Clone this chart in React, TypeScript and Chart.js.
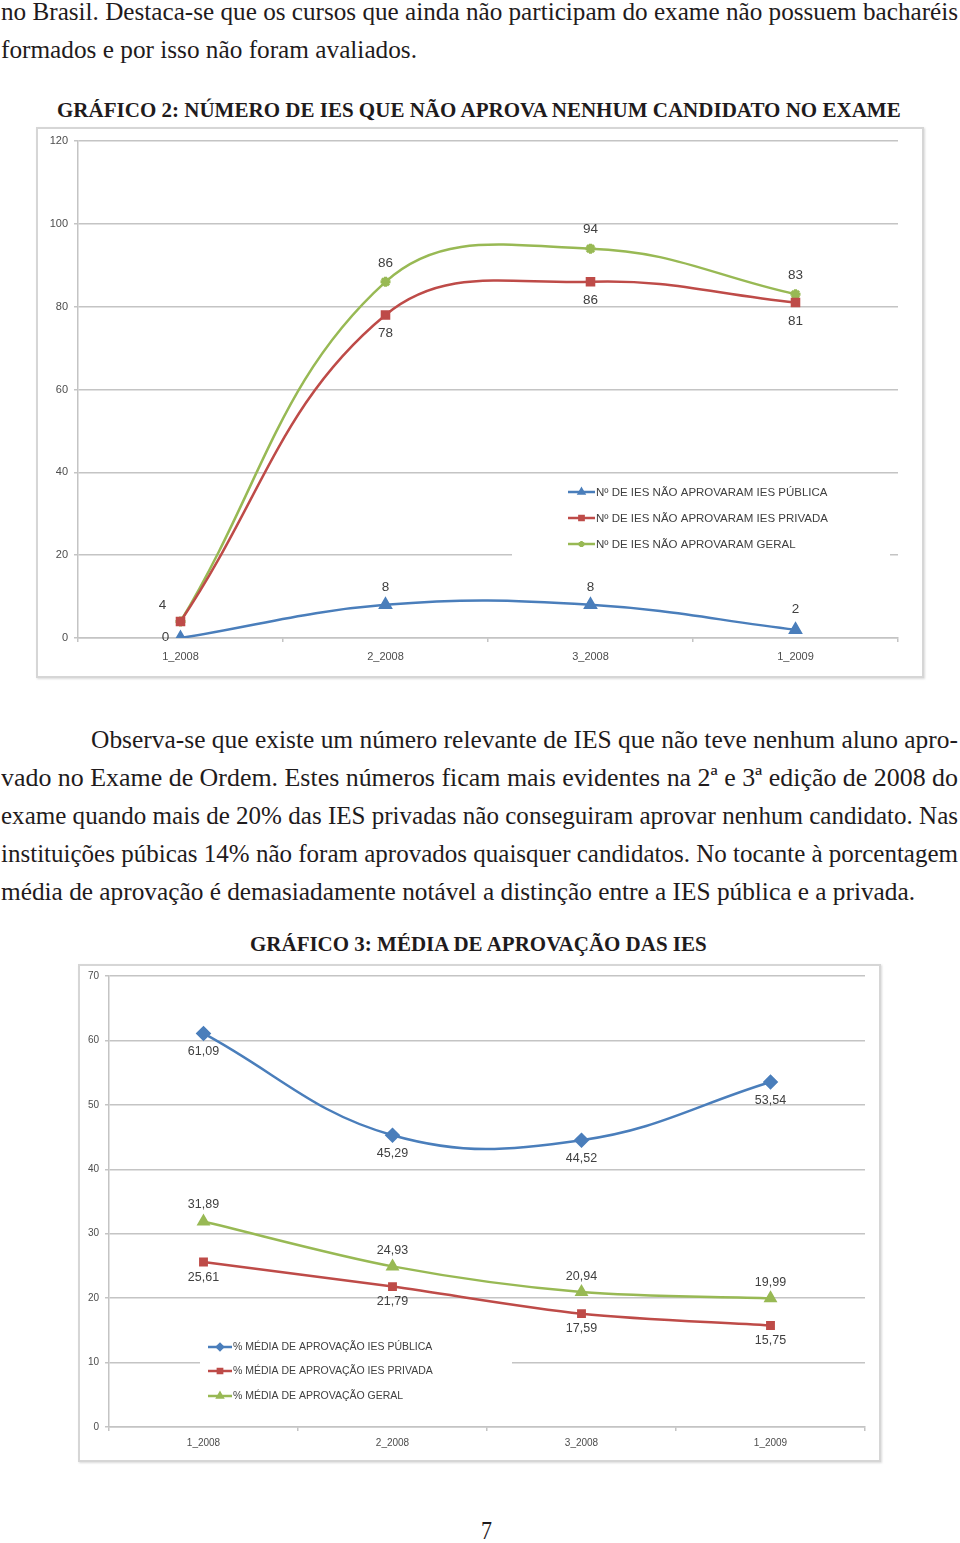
import React, { useEffect, useMemo, useRef } from "react";
import { Chart, registerables } from "chart.js";
import { drawPoint } from "chart.js/helpers";

Chart.register(...registerables);

// ---------------- DATA ----------------
const periods = ["1_2008", "2_2008", "3_2008", "1_2009"];

const ch1SeriesNames = [
  "Nº DE IES NÃO APROVARAM IES PÚBLICA",
  "Nº DE IES NÃO APROVARAM IES PRIVADA",
  "Nº DE IES NÃO APROVARAM GERAL",
];
const ch1Publica = [0, 8, 8, 2];
const ch1Privada = [4, 78, 86, 81];
const ch1Geral = [4, 86, 94, 83];
const ch1YMax = 120;
const ch1YStep = 20;

const ch2SeriesNames = [
  "% MÉDIA DE APROVAÇÃO IES PÚBLICA",
  "% MÉDIA DE APROVAÇÃO IES PRIVADA",
  "% MÉDIA DE APROVAÇÃO GERAL",
];
const ch2Publica = [61.09, 45.29, 44.52, 53.54];
const ch2Privada = [25.61, 21.79, 17.59, 15.75];
const ch2Geral = [31.89, 24.93, 20.94, 19.99];
const ch2YMax = 70;
const ch2YStep = 10;

const BLUE = "#4a7ebb";
const RED = "#be4b48";
const GREEN = "#98b954";
const TICK_FONT = '"Liberation Sans", Arial, sans-serif';

// ---------------- PLUGINS ----------------
const valueLabels = {
  id: "valueLabels",
  afterDatasetsDraw(chart: any, _args: any, opts: any) {
    const ctx = chart.ctx;
    chart.data.datasets.forEach((ds: any, i: number) => {
      const meta = chart.getDatasetMeta(i);
      const pos = ds.labelPos || [];
      meta.data.forEach((pt: any, j: number) => {
        const p = pos[j];
        if (!p) return;
        const v = ds.data[j];
        ctx.save();
        ctx.font = opts.font;
        ctx.fillStyle = opts.color;
        ctx.textAlign = "center";
        ctx.textBaseline = "middle";
        ctx.fillText(opts.decimals ? v.toFixed(2).replace(".", ",") : String(v), pt.x + p[0], pt.y + p[1]);
        ctx.restore();
      });
    });
  },
};

const insideLegend = {
  id: "insideLegend",
  beforeDatasetsDraw(chart: any, _args: any, opts: any) {
    if (!opts || !opts.box) return;
    const ctx = chart.ctx;
    ctx.save();
    ctx.fillStyle = "#ffffff";
    ctx.fillRect(opts.box[0], opts.box[1], opts.box[2], opts.box[3]);
    chart.data.datasets.forEach((ds: any, i: number) => {
      const y = opts.ys[i];
      ctx.strokeStyle = ds.borderColor;
      ctx.lineWidth = 2.5;
      ctx.beginPath();
      ctx.moveTo(opts.x, y);
      ctx.lineTo(opts.x + opts.lineLen, y);
      ctx.stroke();
      ctx.fillStyle = ds.borderColor;
      drawPoint(
        ctx,
        { pointStyle: ds.pointStyle, radius: opts.markerRadius, rotation: 0, borderWidth: 1 } as any,
        opts.x + opts.lineLen / 2,
        y
      );
      ctx.fillStyle = "#404040";
      ctx.font = opts.font;
      ctx.textAlign = "left";
      ctx.textBaseline = "middle";
      ctx.fillText(ds.label, opts.x + opts.lineLen + 1, y + 0.5);
    });
    ctx.restore();
  },
};

// ---------------- COMPONENTS ----------------
function ChartBox({ left, top, width, height, config }: any) {
  const ref = useRef<HTMLCanvasElement>(null);
  useEffect(() => {
    const chart = new Chart(ref.current as HTMLCanvasElement, config);
    return () => chart.destroy();
  }, [config]);
  return (
    <>
      <div style={{ position: "absolute", left, top, width, height }}>
        <canvas ref={ref} width={width} height={height} style={{ width, height, display: "block" }} />
      </div>
      <div
        style={{
          position: "absolute",
          left,
          top,
          width,
          height,
          boxSizing: "border-box",
          border: "2px solid #d6d6d6",
          boxShadow: "1px 1px 2px rgba(0,0,0,0.15)",
          pointerEvents: "none",
        }}
      />
    </>
  );
}

function TextLine({ text, x0, x1, cy, size, bold }: any) {
  const font = `${bold ? "bold " : ""}${size}px "Liberation Serif"`;
  const natural = useMemo(() => {
    const c = document.createElement("canvas").getContext("2d") as CanvasRenderingContext2D;
    c.font = font;
    return c.measureText(text).width;
  }, [text, font]);
  const s = (x1 - x0) / natural;
  return (
    <div
      style={{
        position: "absolute",
        left: x0,
        top: cy - 20,
        height: 40,
        lineHeight: "40px",
        fontFamily: '"Liberation Serif", "Times New Roman", serif',
        fontSize: size,
        fontWeight: bold ? 700 : 400,
        whiteSpace: "nowrap",
        transform: `scaleX(${s})`,
        transformOrigin: "left center",
        color: "#1f1b1c",
      }}
    >
      {text}
    </div>
  );
}

function makeConfig(opts: any) {
  const { datasets, yMax, yStep, pad, yWidth, xHeight, tickSize, labelFont, decimals, legend, xPad } = opts;
  return {
    type: "line",
    data: { labels: periods, datasets },
    options: {
      animation: false,
      responsive: false,
      maintainAspectRatio: false,
      layout: { padding: pad },
      plugins: {
        legend: { display: false },
        tooltip: { enabled: false },
        valueLabels: { font: labelFont, color: "#404040", decimals },
        insideLegend: legend,
      },
      scales: {
        x: {
          offset: true,
          grid: { offset: true, drawOnChartArea: false, drawTicks: true, tickLength: 4, color: "#c4c4c4", lineWidth: 1.5 },
          border: { display: true, color: "#c4c4c4", width: 1.5 },
          ticks: { font: { family: TICK_FONT, size: tickSize }, color: "#4d4d4d", padding: xPad, maxRotation: 0 },
          afterFit: (s: any) => {
            s.height = xHeight;
          },
        },
        y: {
          min: 0,
          max: yMax,
          ticks: { stepSize: yStep, font: { family: TICK_FONT, size: tickSize }, color: "#4d4d4d", padding: 6 },
          grid: { color: "#c4c4c4", lineWidth: 1.5, tickLength: 4 },
          border: { display: true, color: "#c4c4c4", width: 1.5 },
          afterFit: (s: any) => {
            s.width = yWidth;
          },
        },
      },
    },
    plugins: [insideLegend, valueLabels],
  };
}

export default function App() {
  useEffect(() => {
    document.body.style.margin = "0";
    document.body.style.background = "#ffffff";
  }, []);

  const config1 = useMemo(
    () =>
      makeConfig({
        datasets: [
          {
            label: ch1SeriesNames[0],
            data: ch1Publica,
            borderColor: BLUE,
            backgroundColor: BLUE,
            borderWidth: 2.5,
            pointStyle: "triangle",
            pointRadius: 6,
            tension: 0.4,
            labelPos: [[-15, -1], [0, -18], [0, -18], [0, -20]],
          },
          {
            label: ch1SeriesNames[1],
            data: ch1Privada,
            borderColor: RED,
            backgroundColor: RED,
            borderWidth: 2.5,
            pointStyle: "rect",
            pointRadius: 5,
            tension: 0.4,
            labelPos: [null, [0, 18], [0, 18], [0, 19]],
          },
          {
            label: ch1SeriesNames[2],
            data: ch1Geral,
            borderColor: GREEN,
            backgroundColor: GREEN,
            borderWidth: 2.5,
            pointStyle: "star",
            pointRadius: 5,
            pointBorderWidth: 3,
            tension: 0.4,
            labelPos: [[-18, -16], [0, -19], [0, -19], [0, -19]],
          },
        ],
        yMax: ch1YMax,
        yStep: ch1YStep,
        pad: { top: 14, right: 26, left: 0, bottom: 0 },
        yWidth: 42,
        xHeight: 40,
        xPad: 8,
        tickSize: 11,
        labelFont: `13.5px ${TICK_FONT}`,
        decimals: false,
        legend: {
          box: [476, 352, 378, 82],
          x: 532,
          ys: [365, 391, 417],
          lineLen: 27,
          markerRadius: 3,
          font: `11.5px ${TICK_FONT}`,
        },
      }),
    []
  );

  const config2 = useMemo(
    () =>
      makeConfig({
        datasets: [
          {
            label: ch2SeriesNames[0],
            data: ch2Publica,
            borderColor: BLUE,
            backgroundColor: BLUE,
            borderWidth: 2.5,
            pointStyle: "rectRot",
            pointRadius: 6,
            tension: 0.4,
            labelPos: [[0, 18], [0, 18], [0, 18], [0, 18]],
          },
          {
            label: ch2SeriesNames[1],
            data: ch2Privada,
            borderColor: RED,
            backgroundColor: RED,
            borderWidth: 2.5,
            pointStyle: "rect",
            pointRadius: 4.5,
            tension: 0.3,
            labelPos: [[0, 16], [0, 15], [0, 15], [0, 15]],
          },
          {
            label: ch2SeriesNames[2],
            data: ch2Geral,
            borderColor: GREEN,
            backgroundColor: GREEN,
            borderWidth: 2.5,
            pointStyle: "triangle",
            pointRadius: 5.5,
            tension: 0.3,
            labelPos: [[0, -17], [0, -16], [0, -16], [0, -16]],
          },
        ],
        yMax: ch2YMax,
        yStep: ch2YStep,
        pad: { top: 12, right: 16, left: 0, bottom: 0 },
        yWidth: 31,
        xHeight: 35,
        xPad: 6,
        tickSize: 10,
        labelFont: `12.5px ${TICK_FONT}`,
        decimals: true,
        legend: {
          box: [122, 368, 312, 80],
          x: 130,
          ys: [383, 407, 432],
          lineLen: 24,
          markerRadius: 3,
          font: `10.5px ${TICK_FONT}`,
        },
      }),
    []
  );

  return (
    <div style={{ position: "relative", width: 960, height: 1543, background: "#fff", overflow: "hidden" }}>
      <TextLine
        text="no Brasil. Destaca-se que os cursos que ainda não participam do exame não possuem bacharéis"
        x0={1}
        x1={958}
        cy={12}
        size={26}
      />
      <TextLine text="formados e por isso não foram avaliados." x0={1} x1={417} cy={50} size={26} />
      <TextLine
        text="GRÁFICO 2: NÚMERO DE IES QUE NÃO APROVA NENHUM CANDIDATO NO EXAME"
        x0={57}
        x1={903}
        cy={110}
        size={22}
        bold
      />
      <ChartBox left={36} top={127} width={888} height={551} config={config1} />

      <TextLine
        text="Observa-se que existe um número relevante de IES que não teve nenhum aluno apro-"
        x0={91}
        x1={958}
        cy={740}
        size={26}
      />
      <TextLine
        text="vado no Exame de Ordem. Estes números ficam mais evidentes na 2ª e 3ª edição de 2008 do"
        x0={1}
        x1={958}
        cy={778}
        size={26}
      />
      <TextLine
        text="exame quando mais de 20% das IES privadas não conseguiram aprovar nenhum candidato. Nas"
        x0={1}
        x1={958}
        cy={816}
        size={26}
      />
      <TextLine
        text="instituições púbicas 14% não foram aprovados quaisquer candidatos. No tocante à porcentagem"
        x0={1}
        x1={958}
        cy={854}
        size={26}
      />
      <TextLine
        text="média de aprovação é demasiadamente notável a distinção entre a IES pública e a privada."
        x0={1}
        x1={915}
        cy={892}
        size={26}
      />
      <TextLine text="GRÁFICO 3: MÉDIA DE APROVAÇÃO DAS IES" x0={250} x1={709} cy={944} size={22} bold />
      <ChartBox left={78} top={964} width={803} height={498} config={config2} />

      <TextLine text="7" x0={481} x1={492} cy={1531} size={26} />
    </div>
  );
}
